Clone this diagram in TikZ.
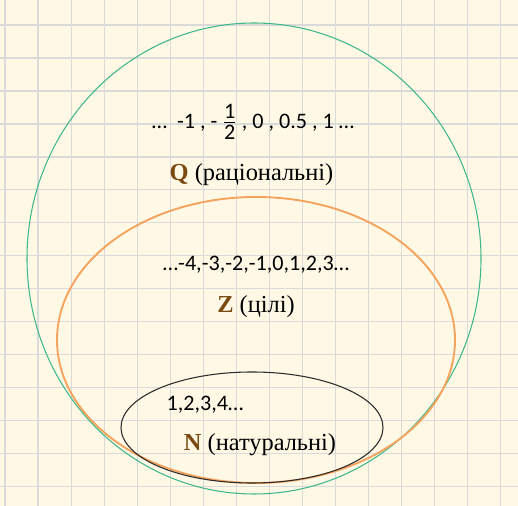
\documentclass[tikz,border=0pt]{standalone}
\usepackage{fontspec}
\setmainfont{Liberation Serif}
\newfontfamily\numfont{Carlito}
\definecolor{paper}{RGB}{254,248,229}
\definecolor{gridline}{RGB}{218,218,218}
\definecolor{qgreen}{RGB}{64,184,140}
\definecolor{zorange}{RGB}{245,162,92}
\definecolor{nblack}{RGB}{45,45,45}
\definecolor{letterbrown}{RGB}{122,74,16}

\begin{document}
\begin{tikzpicture}[x=0.75pt,y=0.75pt,
    nums/.style={font=\numfont\fontsize{16.6}{19}\selectfont,inner sep=0pt},
    setname/.style={font=\fontsize{18.3}{21}\selectfont,inner sep=0pt}]
        \fill[paper] (0,0) rectangle (518,506);
        \useasboundingbox (0,0) rectangle (518,506);
        \foreach \k in {0,...,15} \draw[gridline,line width=0.9pt] ({5+33.05*\k},0) -- ({5+33.05*\k},506);
        \foreach \k in {0,...,14} \draw[gridline,line width=0.9pt] (0,{481-32.98*\k}) -- (518,{481-32.98*\k});
        \draw[qgreen,line width=0.8pt] (254,247.5) ellipse [x radius=227,y radius=235.5];
        \draw[zorange,line width=1.4pt] (256,166) ellipse [x radius=199,y radius=143];
        \draw[nblack,line width=0.8pt] (252,78.5) ellipse [x radius=131,y radius=55.5];
        \node[nums] (rats) at (253,384) {…\ \ -1 , - \(\frac{\mbox{\rule[-2pt]{0pt}{2pt}1}}{\mbox{\rule{0pt}{12pt}2}}\) , 0 , 0.5 , 1 …};
        \node[setname] (qname) at (251.5,331) {\textcolor{letterbrown}{\textbf{Q}} (раціональні)};
        \node[nums] (ints) at (256,241) {…-4,-3,-2,-1,0,1,2,3…};
        \node[setname] (zname) at (256,199) {\textcolor{letterbrown}{\textbf{Z}} (цілі)};
        \node[nums] (nats) at (205,101) {1,2,3,4…};
        \node[setname] (nname) at (260,61) {\textcolor{letterbrown}{\textbf{N}} (натуральні)};
\end{tikzpicture}
\end{document}
